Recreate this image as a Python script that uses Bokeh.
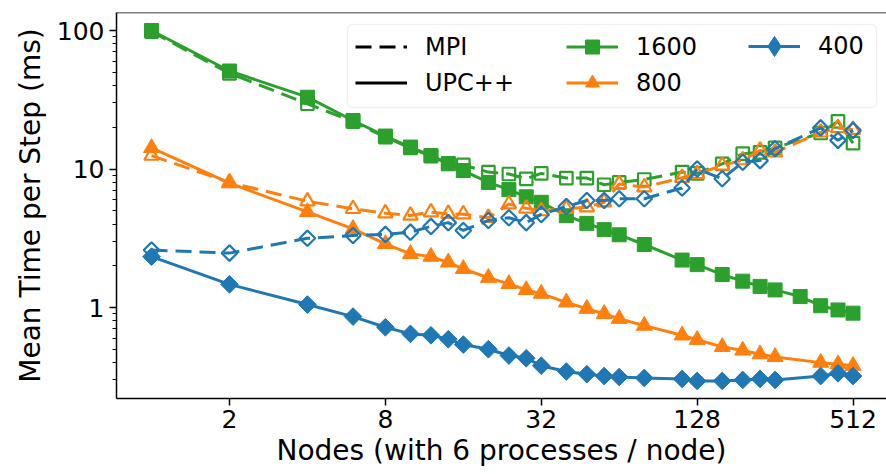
import math
from bokeh.plotting import figure
from bokeh.models import (FixedTicker, PrintfTickFormatter, Legend, LegendItem,
                          Span, BoxAnnotation, Range1d)
from bokeh.embed import file_html
from bokeh.resources import INLINE

# ---------------- data ----------------
nodes_1600_upc = [1, 2, 4, 6, 8, 10, 12, 14, 16, 20, 24, 28, 32, 40, 48, 56, 64, 80,
                  112, 128, 160, 192, 224, 256, 320, 384, 448, 512]
time_1600_upc = [100, 51, 33, 22.4, 17.3, 14.4, 12.5, 10.9, 9.75, 8.0, 7.1, 6.3, 5.75,
                 4.6, 4.05, 3.65, 3.35, 2.85, 2.2, 2.04, 1.73, 1.55, 1.42, 1.34, 1.2,
                 1.03, 0.96, 0.91]

nodes = [1, 2, 4, 6, 8, 10, 12, 14, 16, 20, 24, 28, 32, 40, 48, 56, 64, 80,
         112, 128, 160, 192, 224, 256, 384, 448, 512]
time_1600_mpi = [98, 49, 29.6, 22, 17, 14.2, 12.4, 11.0, 10.7, 9.5, 9.2, 8.5, 9.3, 8.6,
                 8.6, 7.7, 8.0, 8.4, 9.5, 9.3, 10.9, 12.9, 13.2, 14.2, 18.2, 22.1, 15.4]
time_800_upc = [14.2, 7.9, 4.9, 3.7, 2.88, 2.44, 2.33, 2.12, 1.9, 1.64, 1.48, 1.34, 1.26,
                1.09, 0.98, 0.9, 0.83, 0.74, 0.63, 0.585, 0.52, 0.49, 0.46, 0.44, 0.40,
                0.39, 0.38]
time_800_mpi = [12.5, 8.0, 5.85, 5.16, 4.8, 4.62, 4.88, 4.75, 4.72, 4.45, 5.58, 5.2, 4.97,
                5.17, 5.3, 5.76, 7.8, 7.4, 8.65, 9.2, 10.6, 11.6, 13.6, 13.2, 18.4, 19.8,
                19.2]
time_400_upc = [2.33, 1.47, 1.05, 0.86, 0.72, 0.645, 0.63, 0.59, 0.54, 0.50, 0.45, 0.43,
                0.38, 0.345, 0.33, 0.32, 0.315, 0.31, 0.305, 0.295, 0.295, 0.30, 0.305,
                0.30, 0.32, 0.335, 0.32]
time_400_mpi = [2.6, 2.47, 3.16, 3.31, 3.37, 3.5, 3.85, 4.1, 3.6, 4.25, 4.45, 4.1, 4.7,
                5.36, 5.92, 5.92, 6.1, 6.1, 7.3, 10.0, 8.5, 11.2, 11.5, 14.0, 19.8, 16.1,
                19.0]

x_ticks = [2, 8, 32, 128, 512]
y_ticks = [1, 10, 100]
x_title = "Nodes (with 6 processes / node)"
y_title = "Mean Time per Step (ms)"
legend_styles = ["MPI", "UPC++"]
legend_sizes = ["1600", "800", "400"]

GREEN, ORANGE, BLUE = "#2ca02c", "#ff7f0e", "#1f77b4"
FONT = "DejaVu Sans"

p = figure(width=886, height=474, x_axis_type="log", y_axis_type="log",
           x_range=Range1d(0.7323, 689.6), y_range=Range1d(0.2203, 134.9),
           output_backend="svg", toolbar_location=None, title=None,
           min_border_left=116, min_border_right=0, min_border_top=12,
           min_border_bottom=76)
p.outline_line_color = None
p.xgrid.visible = False
p.ygrid.visible = False
p.background_fill_color = "white"
p.border_fill_color = "white"

xa = p.xaxis[0]
ya = p.yaxis[0]
xa.ticker = FixedTicker(ticks=x_ticks, minor_ticks=[])
ya.ticker = FixedTicker(ticks=y_ticks,
                        minor_ticks=[m * 10 ** e for e in (-1, 0, 1) for m in range(2, 10)])
xa.formatter = PrintfTickFormatter(format="%d")
ya.formatter = PrintfTickFormatter(format="%d")
xa.axis_label = x_title
ya.axis_label = y_title
for ax in (xa, ya):
    ax.axis_line_width = 1.5
    ax.axis_line_color = "black"
    ax.major_tick_line_width = 1.5
    ax.minor_tick_line_width = 1.2
    ax.major_tick_line_color = "black"
    ax.minor_tick_line_color = "black"
    ax.major_tick_out = 7
    ax.major_tick_in = 0
    ax.minor_tick_out = 4
    ax.minor_tick_in = 0
    ax.major_label_text_font = FONT
    ax.major_label_text_font_size = "25px"
    ax.major_label_text_color = "black"
    ax.axis_label_text_font = FONT
    ax.axis_label_text_font_size = "28px"
    ax.axis_label_text_font_style = "normal"
    ax.axis_label_text_color = "black"
xa.major_label_standoff = 4
xa.axis_label_standoff = 3
ya.major_label_standoff = 5
ya.axis_label_standoff = 7

p.add_layout(Span(location=134.9, dimension="width", line_color="black", line_width=1.5))

LW = 3
DASH = "16 8"

def series(x, y, color, marker, size, angle, dashed):
    if dashed:
        ln = p.line(x, y, line_color=color, line_width=LW, line_dash=DASH)
        sc = p.scatter(x, y, marker=marker, size=size - 1.5, angle=angle,
                       fill_alpha=0, line_color=color, line_width=2.2)
    else:
        ln = p.line(x, y, line_color=color, line_width=LW)
        sc = p.scatter(x, y, marker=marker, size=size, angle=angle,
                       fill_color=color, line_color=color, line_width=1)
    return ln, sc

series(nodes, time_1600_mpi, GREEN, "square", 14, 0, True)
g_ln, g_sc = series(nodes_1600_upc, time_1600_upc, GREEN, "square", 14, 0, False)
series(nodes, time_800_mpi, ORANGE, "triangle", 16, 0, True)
o_ln, o_sc = series(nodes, time_800_upc, ORANGE, "triangle", 16, 0, False)
series(nodes, time_400_mpi, BLUE, "square", 12.5, math.pi / 4, True)
b_ln, b_sc = series(nodes, time_400_upc, BLUE, "square", 12.5, math.pi / 4, False)

nan = float("nan")
mpi_dummy = p.line([nan], [nan], line_color="black", line_width=LW, line_dash=DASH)
upc_dummy = p.line([nan], [nan], line_color="black", line_width=LW)
diamond_dummy = p.scatter([nan], [nan], marker="diamond", fill_color=BLUE,
                          line_color=BLUE, line_width=1)

box = BoxAnnotation(left=231, right=760, bottom=291, top=374,
                    left_units="screen", right_units="screen",
                    top_units="screen", bottom_units="screen",
                    fill_color="white", fill_alpha=0.8,
                    line_color="#cccccc", line_width=1.3, border_radius=5)
p.add_layout(box)

def mk_legend(items, vx, vy, gh):
    lg = Legend(items=items, location=(vx, vy), orientation="vertical",
                label_text_font=FONT, label_text_font_size="24px",
                label_text_color="black", glyph_width=52, glyph_height=gh,
                label_height=gh, label_standoff=18, spacing=1, padding=0, margin=0,
                border_line_color=None, background_fill_color=None)
    p.add_layout(lg)

mk_legend([LegendItem(label=legend_styles[0], renderers=[mpi_dummy]),
           LegendItem(label=legend_styles[1], renderers=[upc_dummy])], 239, 298, 35)
mk_legend([LegendItem(label=legend_sizes[0], renderers=[g_ln, g_sc]),
           LegendItem(label=legend_sizes[1], renderers=[o_ln, o_sc])], 450, 298, 35)
mk_legend([LegendItem(label=legend_sizes[2], renderers=[b_ln, diamond_dummy])],
          632, 327, 50)

open("out.html", "w").write(file_html(p, INLINE))
